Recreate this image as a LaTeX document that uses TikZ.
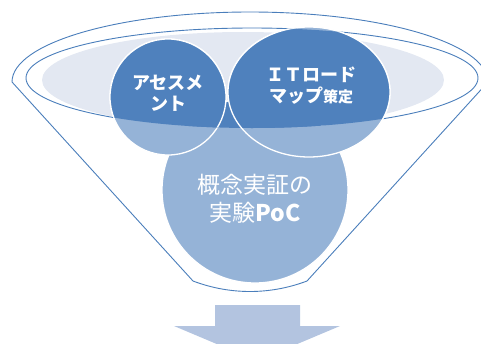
\documentclass[tikz,border=0pt]{standalone}
\usepackage{fontspec}
\usepackage{tikz}
\usetikzlibrary{positioning, calc}
\newfontfamily\jpfont{Noto Sans CJK JP}
\definecolor{funnelblue}{HTML}{4A7EBB}
\definecolor{darkdisk}{HTML}{4F81BD}
\definecolor{lightdisk}{HTML}{95B3D7}
\definecolor{rimfill}{HTML}{E3E8F2}
\definecolor{arrowfill}{HTML}{B3C4E0}

\begin{document}
\begin{tikzpicture}[x=1pt, y=-1pt, every node/.style={font=\jpfont}]
            % styles: funnel lines, disks and their labels
            \tikzset{
                rim/.style={draw=funnelblue, line width=0.9pt},
                disk/.style={fill=lightdisk, draw=white, line width=1.3pt},
                topdisk/.style={fill=darkdisk, draw=white, line width=1.3pt},
                lab/.style={text=white, align=center, font=\jpfont\bfseries\fontsize{18}{21}\selectfont}
            }
            \useasboundingbox (0,0) rectangle (481,343);
            \clip (0,0) rectangle (481,343);
            % centres
            \coordinate (rimc) at (252,78);
            \coordinate (assessc) at (168,97);
            \coordinate (roadc) at (309,92);
            \coordinate (pocc) at (255,190);
            % funnel outline and rim
            \draw[rim] (12,82) arc[start angle=180, end angle=360, x radius=238, y radius=70]
                -- (307,281) .. controls (270,295) and (230,295) .. (193,281) -- cycle;
            \fill[rimfill] (243,80) ellipse[x radius=201, y radius=48];
            \draw[rim] (rimc) ellipse[x radius=226, y radius=50];
            % disks seen through the funnel
            \draw[disk] (pocc) circle[radius=93];
            \draw[disk] (assessc) circle[radius=58];
            \draw[disk] (roadc) ellipse[x radius=81, y radius=65];
            % disk parts inside the rim are darker
            \begin{scope}
                \clip (rimc) ellipse[x radius=226, y radius=50];
                \draw[topdisk] (pocc) circle[radius=93];
                \draw[topdisk] (assessc) circle[radius=58];
                \draw[topdisk] (roadc) ellipse[x radius=81, y radius=65];
            \end{scope}
            % labels
            \node[lab] (assess) at (168,93) {アセスメ\\ント};
            \node[lab] (road) at (311,86) {ＩＴロード\\マップ{\fontsize{15}{21}\selectfont 策定}};
            \node[text=white, align=center, font=\jpfont\fontsize{23}{28}\selectfont] (poc) at (255,199) {概念実証の\\実験{\bfseries PoC}};
            % output arrow
            \fill[arrowfill] (215,305) -- (300,305) -- (300,326) -- (340,326) -- (257,361)
                -- (174,326) -- (215,326) -- cycle;
        \end{tikzpicture}
\end{document}
